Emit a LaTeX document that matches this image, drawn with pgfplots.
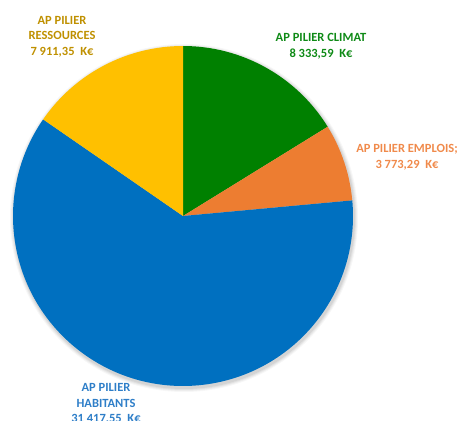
\documentclass[border=0pt]{standalone}
\usepackage{pgfplots}
\pgfplotsset{compat=1.18}
\usepackage{pgfplotstable}
\usepgflibrary{fpu}
\usepackage{fontspec}
\setmainfont{Carlito}
\definecolor{cGreen}{HTML}{008000}
\definecolor{cOrange}{HTML}{ED7D31}
\definecolor{cBlue}{HTML}{0070C0}
\definecolor{cYellow}{HTML}{FFC000}
\definecolor{tGreen}{HTML}{0E8A16}
\definecolor{tOrange}{HTML}{F08A4B}
\definecolor{tBlue}{HTML}{2E7EC8}
\definecolor{tGold}{HTML}{BF9000}
\pgfplotstableread{
label value
Climat 8333.59
Emplois 3773.29
Habitants 31417.55
Ressources 7911.35
}\piedata
\newcommand\getval[2]{\pgfplotstablegetelem{#1}{value}\of\piedata\xdef#2{\pgfplotsretval}}
\begin{document}
\begin{tikzpicture}
\getval{0}\va\getval{1}\vb\getval{2}\vc\getval{3}\vd
\begingroup
\pgfkeys{/pgf/fpu=true,/pgf/fpu/output format=fixed}
\pgfmathparse{\va+\vb+\vc+\vd}\xdef\tot{\pgfmathresult}
\xdef\aA{90}
\pgfmathparse{90-360*\va/\tot}\xdef\aB{\pgfmathresult}
\pgfmathparse{\aB-360*\vb/\tot}\xdef\aC{\pgfmathresult}
\pgfmathparse{\aC-360*\vc/\tot}\xdef\aD{\pgfmathresult}
\pgfmathparse{\aD-360*\vd/\tot}\xdef\aE{\pgfmathresult}
\endgroup
\begin{axis}[
  x=1pt, y=1pt, xmin=0, xmax=459, ymin=0, ymax=421,
  hide axis, clip=false,
]
% soft shadow
\fill[black, opacity=0.03] (axis cs:184,203) circle[radius=174];
\fill[black, opacity=0.04] (axis cs:184,203) circle[radius=173];
\fill[black, opacity=0.05] (axis cs:184,203) circle[radius=172];
\fill[black, opacity=0.06] (axis cs:184,203) circle[radius=171];
\fill[cGreen] (axis cs:183,205) -- (axis cs:{183+170*cos(\aA)},{205+170*sin(\aA)}) arc[start angle=\aA, end angle=\aB, radius=170pt] -- cycle;
\fill[cOrange] (axis cs:183,205) -- (axis cs:{183+170*cos(\aB)},{205+170*sin(\aB)}) arc[start angle=\aB, end angle=\aC, radius=170pt] -- cycle;
\fill[cBlue] (axis cs:183,205) -- (axis cs:{183+170*cos(\aC)},{205+170*sin(\aC)}) arc[start angle=\aC, end angle=\aD, radius=170pt] -- cycle;
\fill[cYellow] (axis cs:183,205) -- (axis cs:{183+170*cos(\aD)},{205+170*sin(\aD)}) arc[start angle=\aD, end angle=\aE, radius=170pt] -- cycle;
\begin{scope}[every node/.style={font=\fontsize{12.5}{15.5}\selectfont\bfseries, align=center}]
\node[text=tGold] at (axis cs:62,384.5) {AP PILIER\\RESSOURCES\\7 911,35\ \ K€};
\node[text=tGreen] at (axis cs:321,375) {AP PILIER CLIMAT\\8 333,59\ \ K€};
\node[text=tOrange] at (axis cs:407,264) {AP PILIER EMPLOIS;\\3 773,29\ \ K€};
\node[text=tBlue] at (axis cs:106,17) {AP PILIER\\HABITANTS\\31 417,55\ \ K€};
\end{scope}
\end{axis}
\pgfresetboundingbox
\path[use as bounding box] (0,0) rectangle (459pt,421pt);
\end{tikzpicture}
\end{document}
